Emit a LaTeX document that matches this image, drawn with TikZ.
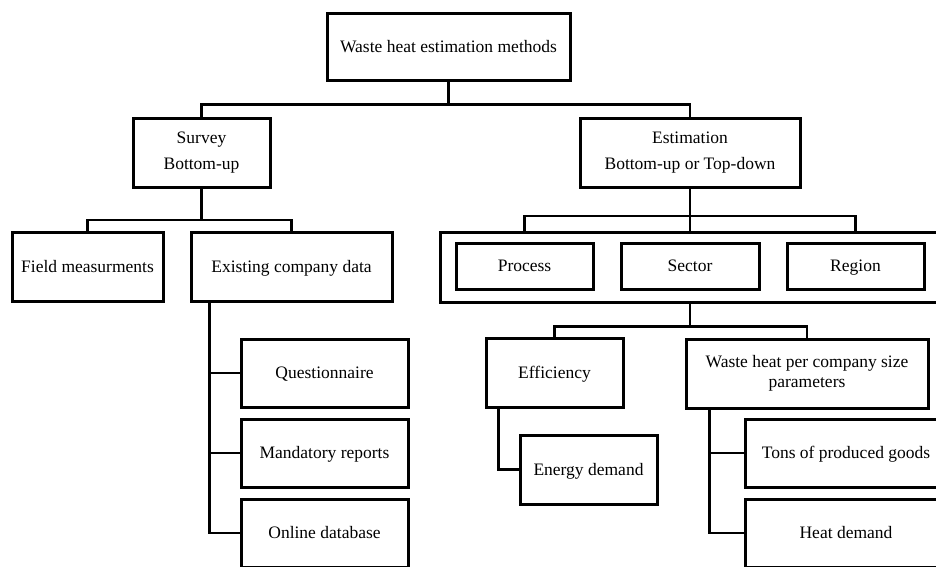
\documentclass[tikz,border=0pt]{standalone}
\usepackage{fontspec}
\setmainfont{Liberation Serif}
\begin{document}
\begin{tikzpicture}[x=1pt,y=-1pt,
  box/.style={draw=black, line width=3pt, fill=white, inner sep=0pt,
    align=center, font=\fontsize{17.5}{26}\selectfont},
  single/.style={text height=13.5pt, text depth=2.5pt},
  link/.style={draw=black, line width=2.6pt}]
\useasboundingbox (0,0) rectangle (936,566);
\clip (0,0) rectangle (936,566);

% level 0
\node[box, single, minimum width=243, minimum height=67] (top) at (448.5,46.5) {Waste heat estimation methods};

% level 1
\node[box, minimum width=137, minimum height=69] (survey) at (201.5,153) {Survey\\Bottom-up};
\node[box, minimum width=220, minimum height=69] (estim) at (690,153) {Estimation\\Bottom-up or Top-down};

% survey branch
\node[box, single, minimum width=151, minimum height=69] (field) at (87.5,266.5) {Field measurments};
\node[box, single, minimum width=201, minimum height=69] (exist) at (291.5,266.5) {Existing company data};
\node[box, single, minimum width=167, minimum height=68] (quest) at (324.5,373) {Questionnaire};
\node[box, single, minimum width=167, minimum height=68] (mand) at (324.5,453) {Mandatory reports};
\node[box, single, minimum width=167, minimum height=68] (online) at (324.5,533) {Online database};

% estimation branch: grouped scopes
\node[box, minimum width=500, minimum height=70] (group) at (690,267) {};
\node[box, single, minimum width=137, minimum height=46] (process) at (524.5,266) {Process};
\node[box, single, minimum width=138, minimum height=46] (sector) at (690,266) {Sector};
\node[box, single, minimum width=137, minimum height=46] (region) at (855.5,266) {Region};

% estimation branch: methods
\node[box, single, minimum width=137, minimum height=69] (effic) at (554.5,372.5) {Efficiency};
\node[box, minimum width=242, minimum height=69, font=\fontsize{17.5}{20}\selectfont] (whpc) at (807,373.5) {Waste heat per company size\\parameters};
\node[box, single, minimum width=137, minimum height=69] (energy) at (588.5,469.5) {Energy demand};
\node[box, single, minimum width=202, minimum height=68] (tons) at (846,453) {Tons of produced goods};
\node[box, single, minimum width=202, minimum height=68] (heat) at (846,533) {Heat demand};

% connectors
\draw[link] (top.south) -- ++(0,23) coordinate (t1) -| (survey.north);
\draw[link] (t1) -| (estim.north);

\draw[link] (survey.south) -- ++(0,31) coordinate (s1) -| (field.north);
\draw[link] (s1) -| (exist.north);

\draw[link] (estim.south) -- ++(0,27) coordinate (e1) -| (group.north -| process.north);
\draw[link] (e1) -| (group.north -| region.north);
\draw[link] (e1) -- (group.north);

\draw[link] ([xshift=20]exist.south west) |- (quest.west);
\draw[link] ([xshift=20]exist.south west) |- (mand.west);
\draw[link] ([xshift=20]exist.south west) |- (online.west);

\draw[link] (group.south) -- ++(0,23) coordinate (g1) -| (effic.north);
\draw[link] (g1) -| (whpc.north);

\draw[link] ([xshift=14]effic.south west) |- (energy.west);
\draw[link] ([xshift=25]whpc.south west) |- (tons.west);
\draw[link] ([xshift=25]whpc.south west) |- (heat.west);
\end{tikzpicture}
\end{document}
